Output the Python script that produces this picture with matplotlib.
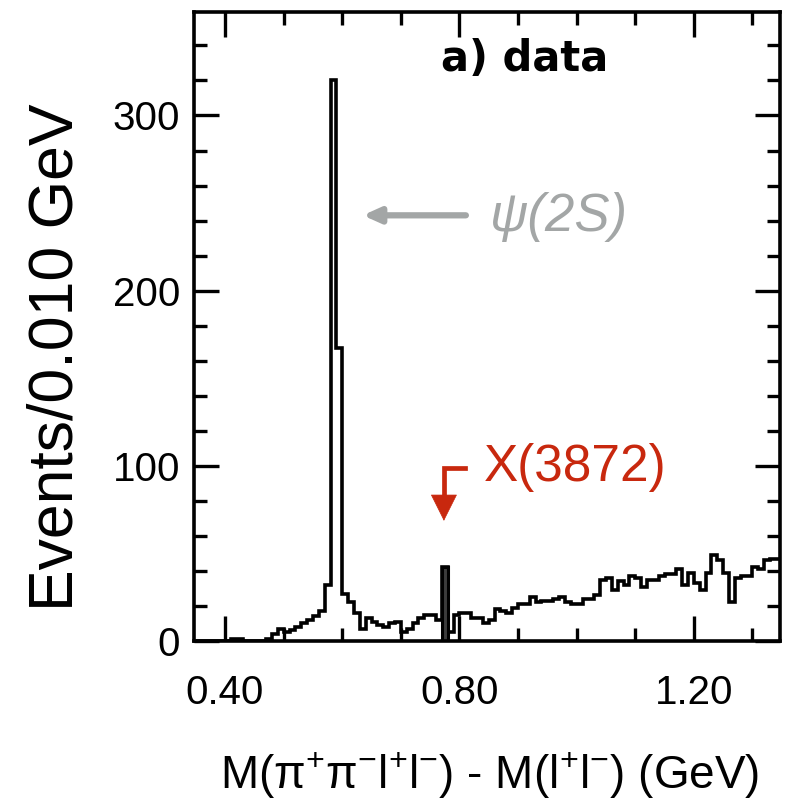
import numpy as np
import matplotlib
matplotlib.use("Agg")
import matplotlib.pyplot as plt
from matplotlib.ticker import MultipleLocator, FormatStrFormatter

plt.rcParams['font.family'] = ['Liberation Sans', 'DejaVu Sans']
plt.rcParams['mathtext.fontset'] = 'custom'
plt.rcParams['mathtext.rm'] = 'Liberation Sans'
plt.rcParams['mathtext.it'] = 'Liberation Sans:italic'

# --- Daten: Ereignisse pro 0.010 GeV Bin, ab 0.35 GeV ---
bin_start = 0.35
bin_width = 0.010
counts = [
    0, 0, 0, 0, 0, 0, 1, 1, 0, 0,          # 0.35 - 0.44
    0, 0, 1, 4, 7, 5, 6, 8, 10, 12,        # 0.45 - 0.54
    14, 17, 32, 320, 167, 27, 22, 16, 7, 13,   # 0.55 - 0.64
    11, 9, 8, 10, 11, 5, 7, 10, 13, 15,    # 0.65 - 0.74
    15, 12, 42, 5, 15, 16, 16, 13, 13, 10,     # 0.75 - 0.84
    12, 18, 17, 16, 19, 21, 21, 25, 22, 23,    # 0.85 - 0.94
    23, 24, 25, 22, 21, 21, 24, 24, 26, 35,    # 0.95 - 1.04
    36, 29, 34, 32, 37, 36, 31, 35, 35, 37,    # 1.05 - 1.14
    38, 38, 41, 32, 39, 33, 29, 39, 49, 46,    # 1.15 - 1.24
    39, 22, 36, 37, 37, 42, 41, 46, 47, 47,    # 1.25 - 1.34
]
x_bin_index = 42   # Bin mit dem X(3872)-Signal

x_ticks = [0.40, 0.80, 1.20]
y_ticks = [0, 100, 200, 300]

edges = bin_start + bin_width * np.arange(len(counts) + 1)

# --- Plot ---
fig = plt.figure(figsize=(7.99, 8.08), dpi=100)
ax = fig.add_axes([0.2428, 0.2067, 0.7334, 0.7783])

ax.stairs(counts, edges, color='black', linewidth=2.6, baseline=None)
ax.bar(edges[x_bin_index], counts[x_bin_index], width=bin_width, align='edge',
       color='#3c3c3c', edgecolor='black', linewidth=2.2)

ax.set_xlim(0.347, 1.347)
ax.set_ylim(0, 359)

ax.set_xticks(x_ticks)
ax.set_yticks(y_ticks)
ax.xaxis.set_major_formatter(FormatStrFormatter('%.2f'))
ax.xaxis.set_minor_locator(MultipleLocator(0.1))
ax.yaxis.set_minor_locator(MultipleLocator(20))
ax.tick_params(which='both', direction='in', top=True, right=True, width=2.4,
               labelsize=29, color='black')
ax.tick_params(which='major', length=18)
ax.tick_params(which='minor', length=9.5)
ax.tick_params(axis='x', pad=24)
ax.tick_params(axis='y', pad=10)
for s in ax.spines.values():
    s.set_linewidth(2.6)

ax.set_xlabel('M(π$^{+}$π$^{-}$l$^{+}$l$^{-}$) - M(l$^{+}$l$^{-}$) (GeV)', fontsize=33)
ax.xaxis.set_label_coords(0.505, -0.175)
ax.set_ylabel('Events/0.010 GeV', fontsize=45)
ax.yaxis.set_label_coords(-0.185, 0.452)

# Beschriftung oben rechts
ax.text(0.768, 332, 'a) data', fontsize=30, fontweight='bold',
        family='DejaVu Sans', va='center', ha='left')

# psi(2S) Pfeil und Text
grey = '#a3a6a6'
ax.annotate('', xy=(0.635, 243), xytext=(0.811, 243),
            arrowprops=dict(arrowstyle='-|>,head_length=1.0,head_width=0.45',
                            color=grey, lw=4.5, shrinkA=0, shrinkB=0))
ax.text(0.852, 242, 'ψ(2S)', fontsize=38, style='italic', color=grey,
        va='center', ha='left')

# X(3872) Winkelpfeil und Text
red = '#c8280e'
ax.plot([0.809, 0.7735, 0.7735], [98.9, 98.9, 80], color=red, lw=3.4,
        solid_joinstyle='miter')
ax.annotate('', xy=(0.7735, 68.6), xytext=(0.7735, 83),
            arrowprops=dict(arrowstyle='-|>,head_length=1.8,head_width=0.9',
                            color=red, lw=0.5, shrinkA=0, shrinkB=0))
ax.text(0.842, 99, 'X(3872)', fontsize=37, color=red, va='center', ha='left')

fig.savefig('out.png', dpi=100, facecolor='white')
